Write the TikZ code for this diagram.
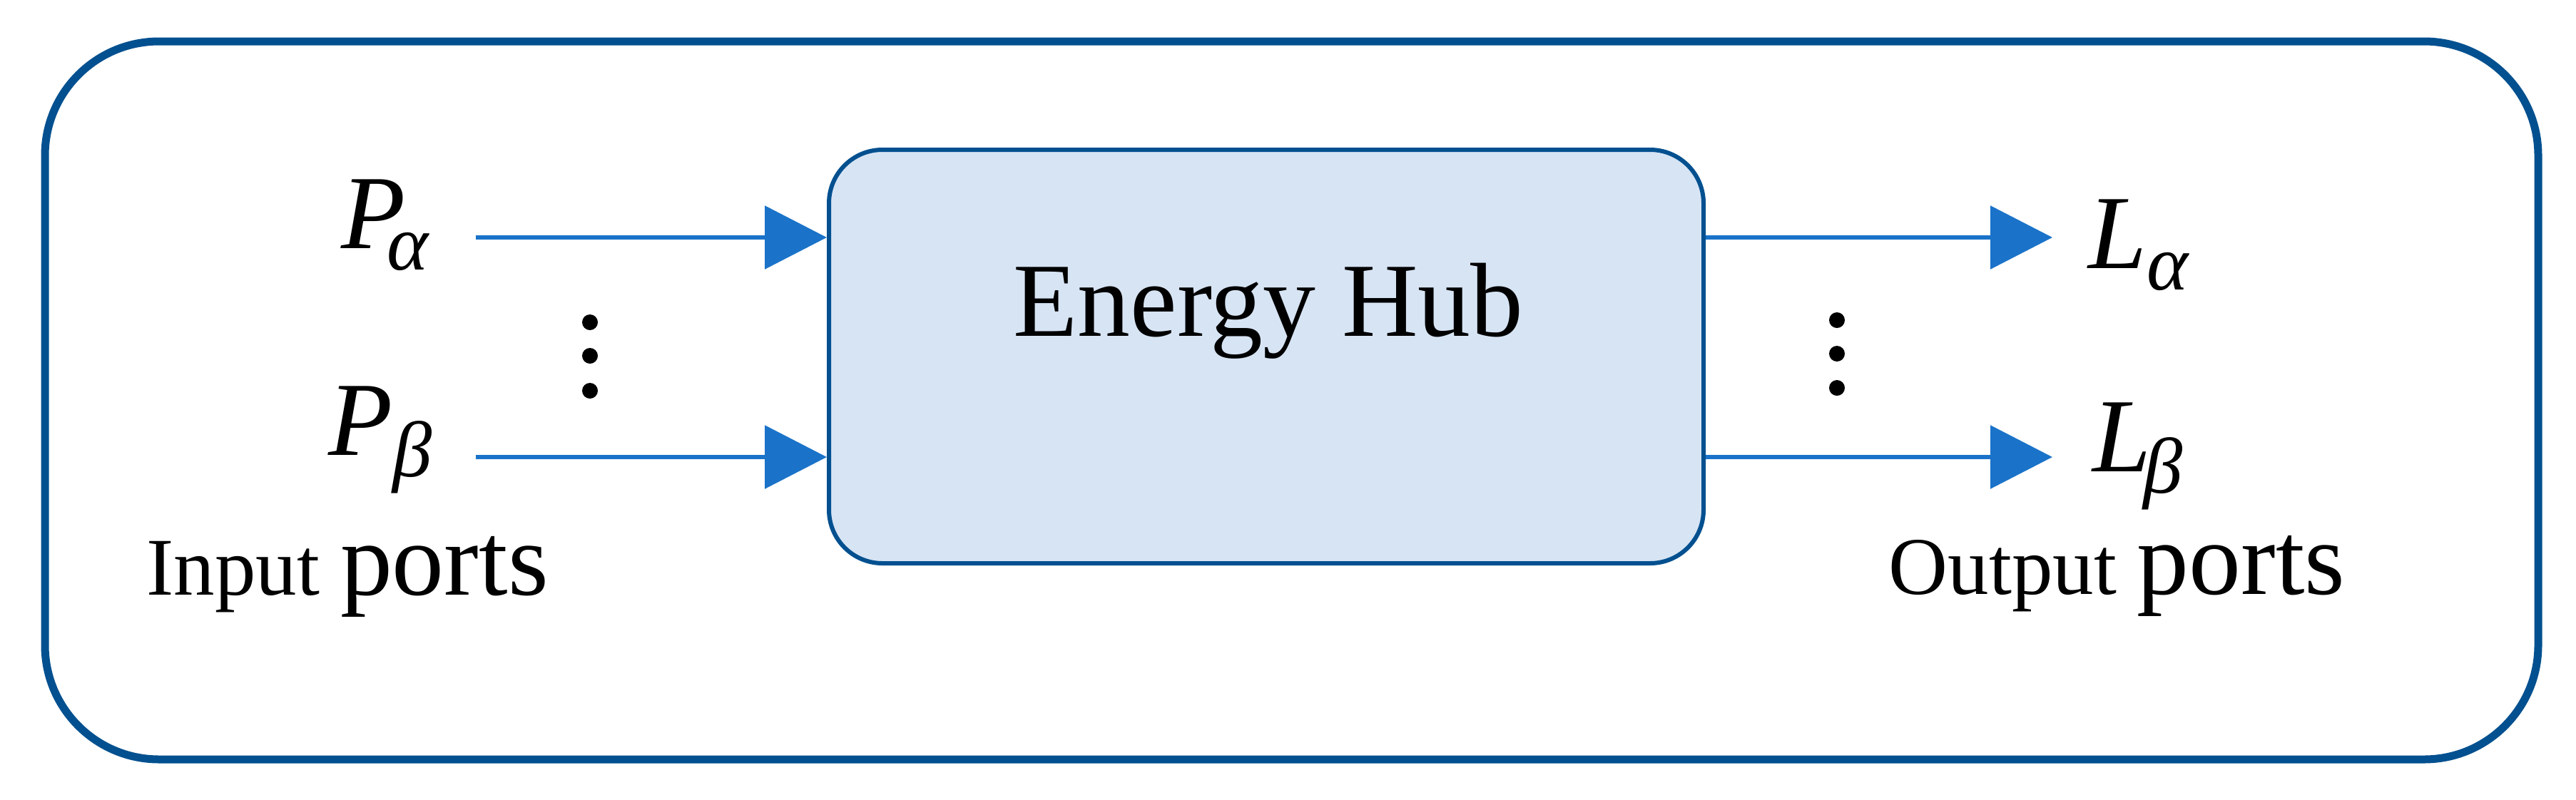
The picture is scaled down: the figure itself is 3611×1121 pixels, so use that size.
\documentclass[tikz,border=0pt]{standalone}
\usepackage{fontspec}
\setmainfont{Liberation Serif}
\usetikzlibrary{arrows.meta}
\definecolor{frameblue}{HTML}{02508F}
\definecolor{arrowblue}{HTML}{1A73C9}
\definecolor{hubfill}{HTML}{D7E4F4}
\newcommand{\subsc}[1]{\raisebox{-3mm}{\fontsize{31.5}{36}\selectfont #1}}
\begin{document}
\begin{tikzpicture}[x=0.1mm,y=-0.1mm,
  framebox/.style={draw=frameblue, line width=1.1mm, rounded corners=16mm, minimum width=349.5mm, minimum height=100.7mm, inner sep=0},
  hubbox/.style={draw=frameblue, fill=hubfill, line width=0.6mm, rounded corners=7.5mm, minimum width=122.6mm, minimum height=58mm, inner sep=0},
  flow/.style={draw=arrowblue, line width=0.6mm, -{Triangle[length=8.7mm,width=8.8mm]}},
  lbl/.style={inner sep=0, anchor=base west, font=\fontsize{42}{50}\selectfont\itshape},
  capt/.style={inner sep=0, anchor=base west, font=\fontsize{32.7}{40}\selectfont},
  dotc/.style={circle, fill=black, inner sep=0, minimum size=2.2mm}
]
\useasboundingbox (0,0) rectangle (3611,1121);
\node[framebox] (frame) at (1810.5,561.5) {};
\node[hubbox] (hub) at (1775,500) {};
\node[font=\fontsize{42}{50}\selectfont, anchor=base, inner sep=0] (hubtext) at (1778,471) {Energy Hub};

\node[lbl] (pa) at (478,348) {P\kern-2.6mm\subsc{α}};
\node[lbl] (pb) at (460,638) {P\subsc{β}};
\node[lbl] (la) at (2927,376) {L\subsc{α}};
\node[lbl] (lb) at (2933,661) {L\kern-1.1mm\subsc{β}};

\node[capt] (inp) at (205,834) {Input {\fontsize{41.5}{48}\selectfont ports}};
\node[capt] (outp) at (2647,833) {Output {\fontsize{41.5}{48}\selectfont ports}};

\coordinate (ina) at (667,333);
\coordinate (inb) at (667,641);
\coordinate (outa) at (2877,333);
\coordinate (outb) at (2877,641);
\draw[flow] (ina) -- (ina -| hub.west);
\draw[flow] (inb) -- (inb -| hub.west);
\draw[flow] (outa -| hub.east) -- (outa);
\draw[flow] (outb -| hub.east) -- (outb);

\node[dotc] (ld1) at (827,452) {};
\node[dotc] (ld2) at (827,499) {};
\node[dotc] (ld3) at (827,548) {};
\node[dotc] (rd1) at (2575,449) {};
\node[dotc] (rd2) at (2575,496) {};
\node[dotc] (rd3) at (2575,544) {};
\end{tikzpicture}
\end{document}
